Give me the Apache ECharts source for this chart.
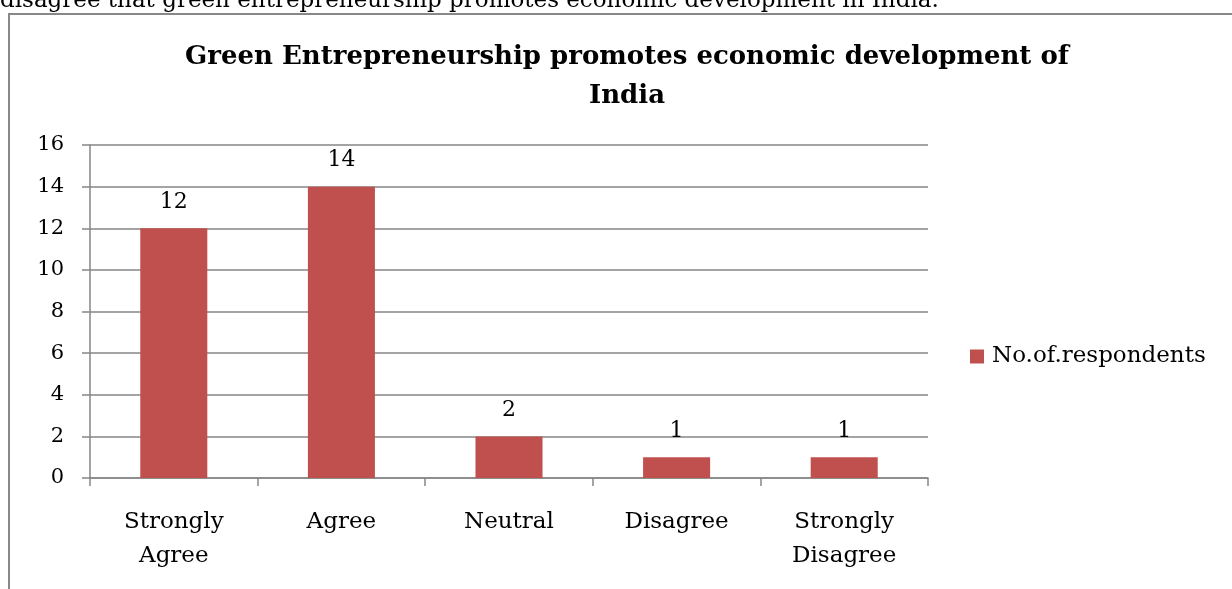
<!DOCTYPE html>
<html>
<head>
<meta charset="utf-8">
<script src="https://cdn.jsdelivr.net/npm/echarts@6/dist/echarts.min.js"></script>
<style>
  html, body { margin: 0; padding: 0; background: #ffffff; }
  #chart { width: 1232px; height: 589px; }
</style>
</head>
<body>
<div id="chart"></div>
<script>
// Survey responses: does green entrepreneurship promote India's economic development?
const categories = ['Strongly\nAgree', 'Agree', 'Neutral', 'Disagree', 'Strongly\nDisagree'];
const respondents = [12, 14, 2, 1, 1];
const seriesName = 'No.of.respondents';
const titleText = 'Green Entrepreneurship promotes economic development of\nIndia';
const leadText = 'disagree that green entrepreneurship promotes economic development in India.';

const FONT = '"DejaVu Serif", "Liberation Serif", serif';
const BAR = '#C0504D';
const GRID = '#868686';

const chart = echarts.init(document.getElementById('chart'), null, { renderer: 'canvas' });

chart.setOption({
  animation: false,
  backgroundColor: '#ffffff',
  textStyle: { fontFamily: FONT },
  title: {
    text: titleText,
    left: 622,
    textAlign: 'center',
    top: 33,
    textStyle: {
      fontFamily: FONT,
      fontWeight: 'bold',
      fontSize: 26,
      lineHeight: 39,
      color: '#000000'
    }
  },
  legend: {
    data: [seriesName],
    left: 965,
    top: 340,
    itemWidth: 14,
    itemHeight: 14,
    itemGap: 8,
    icon: 'rect',
    textStyle: { fontFamily: FONT, fontSize: 23, color: '#000000', padding: [0, 0, 0, 3] }
  },
  grid: { left: 90, right: 304, top: 145, bottom: 111, containLabel: false },
  xAxis: {
    type: 'category',
    data: categories,
    boundaryGap: true,
    axisLine: { show: true, lineStyle: { color: GRID, width: 1.5 } },
    axisTick: { show: true, length: 8, alignWithLabel: false, lineStyle: { color: GRID, width: 1.5 } },
    axisLabel: {
      interval: 0,
      margin: 27,
      fontFamily: FONT,
      fontSize: 23,
      lineHeight: 34,
      color: '#000000'
    },
    splitLine: { show: false }
  },
  yAxis: {
    type: 'value',
    min: 0,
    max: 16,
    interval: 2,
    axisLine: { show: true, lineStyle: { color: GRID, width: 1.5 } },
    axisTick: { show: true, length: 8, lineStyle: { color: GRID, width: 1.5 } },
    axisLabel: {
      margin: 26,
      fontFamily: FONT,
      fontSize: 21,
      color: '#000000'
    },
    splitLine: { show: true, lineStyle: { color: GRID, width: 1.5 } }
  },
  series: [{
    name: seriesName,
    type: 'bar',
    data: respondents,
    barWidth: '40%',
    itemStyle: { color: BAR },
    label: {
      show: true,
      position: 'top',
      distance: 15,
      fontFamily: FONT,
      fontSize: 22,
      color: '#000000'
    }
  }],
  graphic: [
    {
      type: 'rect',
      silent: true,
      shape: { x: 9, y: 14, width: 1260, height: 620 },
      style: { fill: 'none', stroke: '#888888', lineWidth: 2 }
    },
    {
      type: 'text',
      silent: true,
      x: 0,
      y: 13,
      style: {
        text: leadText,
        fontFamily: FONT,
        fontSize: 23,
        fill: '#000000',
        verticalAlign: 'bottom'
      }
    }
  ]
});
</script>
</body>
</html>
